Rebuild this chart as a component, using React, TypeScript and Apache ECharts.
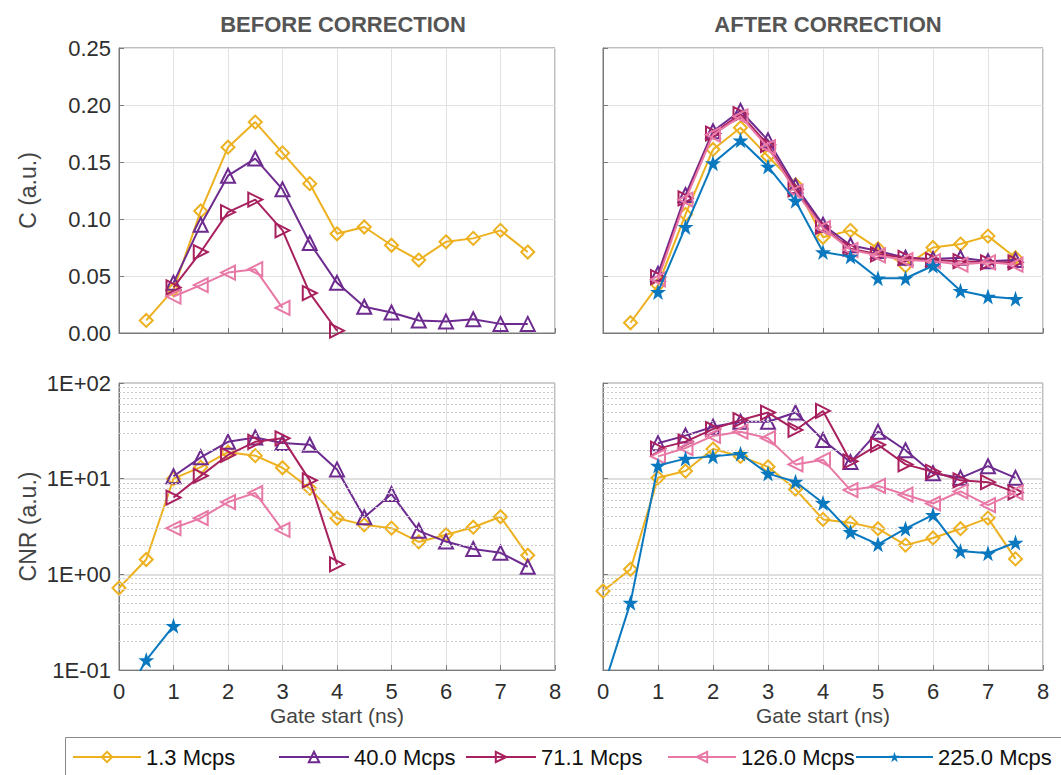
import React, { useEffect, useRef } from "react";
import * as echarts from "echarts";

const X = [0, 0.5, 1, 1.5, 2, 2.5, 3, 3.5, 4, 4.5, 5, 5.5, 6, 6.5, 7, 7.5];
const seriesNames = ["1.3 Mcps", "40.0 Mcps", "71.1 Mcps", "126.0 Mcps", "225.0 Mcps"];
const panelTitles = ["BEFORE CORRECTION", "AFTER CORRECTION"];
const xTicks = [0, 1, 2, 3, 4, 5, 6, 7, 8];
const cTicks = [0, 0.05, 0.1, 0.15, 0.2, 0.25];
const cnrTicks = [0.1, 1, 10, 100];
const cnrMinor = [0.2, 0.3, 0.4, 0.5, 0.6, 0.7, 0.8, 0.9, 2, 3, 4, 5, 6, 7, 8, 9, 20, 30, 40, 50, 60, 70, 80, 90];

const N = null;
// C before correction
const cBefore13 = [N, 0.011, 0.038, 0.107, 0.163, 0.185, 0.158, 0.131, 0.087, 0.093, 0.077, 0.064, 0.08, 0.083, 0.09, 0.071];
const cBefore40 = [N, N, 0.044, 0.095, 0.138, 0.153, 0.126, 0.079, 0.044, 0.023, 0.018, 0.011, 0.01, 0.012, 0.008, 0.008];
const cBefore71 = [N, N, 0.04, 0.071, 0.106, 0.117, 0.09, 0.035, 0.002, N, N, N, N, N, N, N];
const cBefore126 = [N, N, 0.032, 0.042, 0.053, 0.056, 0.022, N, N, N, N, N, N, N, N, N];
const cBefore225 = [N, N, N, N, N, N, N, N, N, N, N, N, N, N, N, N];
// C after correction
const cAfter13 = [N, 0.009, 0.042, 0.104, 0.161, 0.18, 0.155, 0.13, 0.084, 0.09, 0.074, 0.059, 0.075, 0.078, 0.085, 0.066];
const cAfter40 = [N, N, 0.052, 0.121, 0.177, 0.195, 0.169, 0.129, 0.095, 0.077, 0.072, 0.066, 0.065, 0.066, 0.063, 0.064];
const cAfter71 = [N, N, 0.049, 0.118, 0.175, 0.192, 0.165, 0.126, 0.093, 0.074, 0.069, 0.066, 0.064, 0.063, 0.062, 0.062];
const cAfter126 = [N, N, 0.047, 0.117, 0.174, 0.19, 0.163, 0.124, 0.092, 0.073, 0.068, 0.064, 0.063, 0.06, 0.062, 0.06];
const cAfter225 = [N, N, 0.036, 0.093, 0.149, 0.169, 0.146, 0.116, 0.071, 0.067, 0.048, 0.048, 0.059, 0.037, 0.032, 0.03];
// CNR before correction
const cnrBefore13 = [0.72, 1.43, 10.0, 13.2, 18.9, 17.4, 13.0, 7.9, 3.86, 3.29, 3.04, 2.18, 2.59, 3.11, 4.0, 1.58];
const cnrBefore40 = [N, N, 10.6, 16.7, 24.3, 27.0, 23.6, 22.6, 12.5, 3.95, 6.9, 2.85, 2.2, 1.84, 1.68, 1.2];
const cnrBefore71 = [N, N, 6.35, 10.7, 17.7, 24.3, 26.4, 9.6, 1.27, N, N, N, N, N, N, N];
const cnrBefore126 = [N, N, 3.04, 3.86, 5.7, 7.1, 2.92, N, N, N, N, N, N, N, N, N];
const cnrBefore225 = [0.04, 0.127, 0.29, N, N, N, N, N, N, N, N, N, N, N, N, N];
// CNR after correction
const cnrAfter13 = [0.67, 1.13, 10.2, 12.0, 20.4, 17.1, 13.3, 7.76, 3.75, 3.47, 3.0, 2.02, 2.4, 3.0, 3.87, 1.45];
const cnrAfter40 = [N, N, 23.5, 28.2, 34.9, 39.3, 39.3, 49.1, 25.4, 14.9, 31.0, 19.8, 11.4, 10.2, 13.5, 10.2];
const cnrAfter71 = [N, N, 20.6, 24.4, 33.0, 40.9, 49.1, 32.3, 51.0, 15.2, 22.6, 14.1, 11.8, 9.6, 9.2, 7.2];
const cnrAfter126 = [N, N, 17.1, 20.9, 28.0, 31.0, 26.5, 14.1, 15.8, 7.6, 8.4, 6.8, 5.5, 7.35, 5.3, 7.2];
const cnrAfter225 = [0.063, 0.506, 13.7, 16.2, 17.1, 18.2, 11.3, 9.3, 5.57, 2.77, 2.06, 3.0, 4.19, 1.75, 1.66, 2.15];

const panels = [
  [cBefore13, cBefore40, cBefore71, cBefore126, cBefore225],
  [cAfter13, cAfter40, cAfter71, cAfter126, cAfter225],
  [cnrBefore13, cnrBefore40, cnrBefore71, cnrBefore126, cnrBefore225],
  [cnrAfter13, cnrAfter40, cnrAfter71, cnrAfter126, cnrAfter225],
];

const COLORS = ["#EDB120", "#6E2B8F", "#A8215E", "#E879A6", "#0A78BE"];
const STAR = "path://M50,0 L61.8,35.1 L98.1,35.1 L68.7,56.8 L79.4,91.9 L50,70.3 L20.6,91.9 L31.3,56.8 L1.9,35.1 L38.2,35.1 Z";
const SYMBOLS = ["diamond", "triangle", "triangle", "triangle", STAR];
const ROTATE = [0, 0, -90, 90, 0];
const SIZES = [13, 14, 14, 14, 16];

const FONT = "'Liberation Sans', Arial, Helvetica, sans-serif";
const AXIS = "#7a7a7a";
const TXT = "#2e2e2e";

const expLabel = (v: number) => {
  const e = Math.round(Math.log10(v));
  return "1E" + (e < 0 ? "-" : "+") + String(Math.abs(e)).padStart(2, "0");
};

export default function App() {
  const ref = useRef<HTMLDivElement>(null);
  useEffect(() => {
    if (!ref.current) return;
    const chart = echarts.init(ref.current, null, { renderer: "svg" });
    const L = [119, 603];
    const W = [436, 440];
    const grids = [
      { left: L[0], top: 48, width: W[0], height: 285 },
      { left: L[1], top: 48, width: W[1], height: 285 },
      { left: L[0], top: 383, width: W[0], height: 287 },
      { left: L[1], top: 383, width: W[1], height: 287 },
    ].map((g) => ({ ...g, show: true, borderColor: AXIS, borderWidth: 1, backgroundColor: "#fff" }));

    const xAxes = grids.map((_, i) => ({
      type: "value",
      gridIndex: i,
      min: xTicks[0],
      max: xTicks[xTicks.length - 1],
      interval: 1,
      axisLine: { show: true, lineStyle: { color: AXIS } },
      axisTick: { show: true, inside: true, length: 5, lineStyle: { color: AXIS } },
      axisLabel: { show: i >= 2, fontSize: 22, color: TXT, fontFamily: FONT, margin: 10 },
      splitLine: { show: true, lineStyle: { color: "#e2e2e2", width: 1 } },
      name: i >= 2 ? "Gate start (ns)" : "",
      nameLocation: "middle",
      nameGap: 35,
      nameTextStyle: { fontSize: 21, color: "#444", fontFamily: FONT },
    }));

    const yAxes = grids.map((_, i) => {
      const isLog = i >= 2;
      const base: any = {
        gridIndex: i,
        axisLine: { show: true, lineStyle: { color: AXIS } },
        axisTick: { show: true, inside: true, length: 5, lineStyle: { color: AXIS } },
        axisLabel: {
          show: i % 2 === 0,
          fontSize: 22,
          color: TXT,
          fontFamily: FONT,
          margin: 8,
          formatter: isLog ? (v: number) => expLabel(v) : (v: number) => v.toFixed(2),
        },
        splitLine: { show: true, lineStyle: { color: isLog ? "#d4d4d4" : "#e2e2e2", width: isLog ? 1.5 : 1 } },
        name: i === 0 ? "C (a.u.)" : i === 2 ? "CNR (a.u.)" : "",
        nameLocation: "middle",
        nameRotate: 90,
        nameGap: 80,
        nameTextStyle: { fontSize: 23, color: "#444", fontFamily: FONT },
      };
      if (isLog) {
        return { ...base, type: "log", logBase: 10, min: cnrTicks[0], max: cnrTicks[cnrTicks.length - 1], interval: 1 };
      }
      return { ...base, type: "value", min: cTicks[0], max: cTicks[cTicks.length - 1], interval: 0.05 };
    });

    const series: any[] = [];
    [2, 3].forEach((gi) => {
      series.push({
        type: "line",
        xAxisIndex: gi,
        yAxisIndex: gi,
        data: [],
        silent: true,
        markLine: {
          silent: true,
          symbol: ["none", "none"],
          label: { show: false },
          lineStyle: { color: "#cbcbcb", type: [2, 2], width: 1 },
          data: cnrMinor.map((v) => ({ yAxis: v })),
          animation: false,
        },
      });
    });

    panels.forEach((arrs, gi) => {
      arrs.forEach((vals, si) => {
        const data = X.map((x, k) => [x, vals[k]]).filter((d) => d[1] !== null);
        series.push({
          name: seriesNames[si],
          type: "line",
          xAxisIndex: gi,
          yAxisIndex: gi,
          data,
          clip: true,
          symbol: SYMBOLS[si],
          symbolSize: SIZES[si],
          symbolRotate: ROTATE[si],
          showAllSymbol: true,
          lineStyle: { color: COLORS[si], width: 2 },
          itemStyle:
            si === 4
              ? { color: COLORS[si], borderColor: COLORS[si], borderWidth: 0 }
              : { color: "rgba(255,255,255,0)", borderColor: COLORS[si], borderWidth: 2 },
          z: 3 + si,
        });
      });
    });

    const legendLefts = [72, 278, 465, 667, 855];
    const legendW = [68, 70, 70, 68, 77];
    const legends = seriesNames.map((n, i) => ({
      data: [n],
      left: legendLefts[i],
      top: 746,
      itemWidth: legendW[i],
      itemHeight: 13,
      itemGap: 0,
      padding: 0,
      textStyle: { fontSize: 22, color: "#111", fontFamily: FONT, padding: [0, 0, 0, 0] },
      selectedMode: false,
    }));

    chart.setOption({
      animation: false,
      backgroundColor: "#fff",
      title: panelTitles.map((t, i) => ({
        text: t,
        left: i === 0 ? 338 : 823,
        top: 8,
        textAlign: "center",
        textStyle: { fontSize: 22, fontWeight: "bold", color: "#555", fontFamily: FONT },
      })),
      grid: grids,
      xAxis: xAxes,
      yAxis: yAxes,
      legend: legends,
      graphic: [
        {
          type: "rect",
          left: 63,
          top: 735,
          shape: { width: 1020, height: 50 },
          style: { fill: "none", stroke: "#8a8a8a", lineWidth: 1 },
          silent: true,
        },
      ],
      series,
    });
    return () => chart.dispose();
  }, []);
  return <div ref={ref} style={{ position: "fixed", left: 0, top: 0, width: 1061, height: 775 }} />;
}
